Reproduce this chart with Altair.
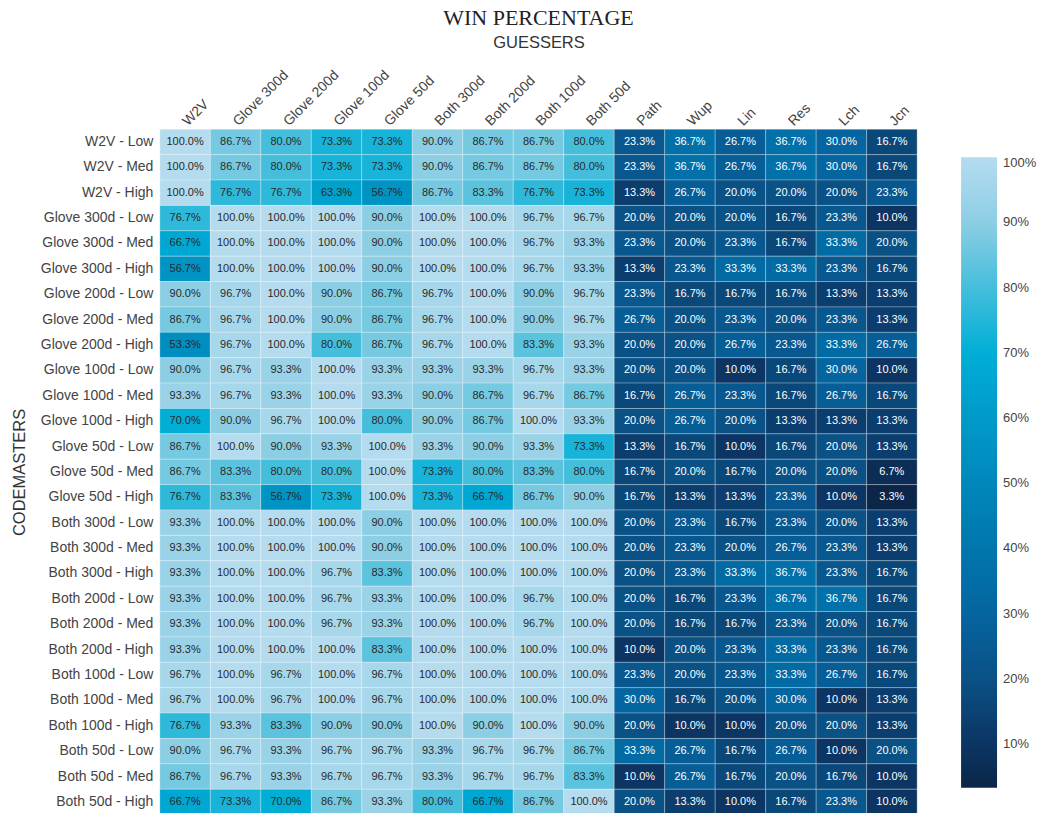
import altair as alt
import pandas as pd

guessers = ["W2V", "Glove 300d", "Glove 200d", "Glove 100d", "Glove 50d",
            "Both 300d", "Both 200d", "Both 100d", "Both 50d",
            "Path", "Wup", "Lin", "Res", "Lch", "Jcn"]

codemasters = ["W2V - Low", "W2V - Med", "W2V - High",
               "Glove 300d - Low", "Glove 300d - Med", "Glove 300d - High",
               "Glove 200d - Low", "Glove 200d - Med", "Glove 200d - High",
               "Glove 100d - Low", "Glove 100d - Med", "Glove 100d - High",
               "Glove 50d - Low", "Glove 50d - Med", "Glove 50d - High",
               "Both 300d - Low", "Both 300d - Med", "Both 300d - High",
               "Both 200d - Low", "Both 200d - Med", "Both 200d - High",
               "Both 100d - Low", "Both 100d - Med", "Both 100d - High",
               "Both 50d - Low", "Both 50d - Med", "Both 50d - High"]

w2v_low = [100.0, 86.7, 80.0, 73.3, 73.3, 90.0, 86.7, 86.7, 80.0, 23.3, 36.7, 26.7, 36.7, 30.0, 16.7]
w2v_med = [100.0, 86.7, 80.0, 73.3, 73.3, 90.0, 86.7, 86.7, 80.0, 23.3, 36.7, 26.7, 36.7, 30.0, 16.7]
w2v_high = [100.0, 76.7, 76.7, 63.3, 56.7, 86.7, 83.3, 76.7, 73.3, 13.3, 26.7, 20.0, 20.0, 20.0, 23.3]
g300_low = [76.7, 100.0, 100.0, 100.0, 90.0, 100.0, 100.0, 96.7, 96.7, 20.0, 20.0, 20.0, 16.7, 23.3, 10.0]
g300_med = [66.7, 100.0, 100.0, 100.0, 90.0, 100.0, 100.0, 96.7, 93.3, 23.3, 20.0, 23.3, 16.7, 33.3, 20.0]
g300_high = [56.7, 100.0, 100.0, 100.0, 90.0, 100.0, 100.0, 96.7, 93.3, 13.3, 23.3, 33.3, 33.3, 23.3, 16.7]
g200_low = [90.0, 96.7, 100.0, 90.0, 86.7, 96.7, 100.0, 90.0, 96.7, 23.3, 16.7, 16.7, 16.7, 13.3, 13.3]
g200_med = [86.7, 96.7, 100.0, 90.0, 86.7, 96.7, 100.0, 90.0, 96.7, 26.7, 20.0, 23.3, 20.0, 23.3, 13.3]
g200_high = [53.3, 96.7, 100.0, 80.0, 86.7, 96.7, 100.0, 83.3, 93.3, 20.0, 20.0, 26.7, 23.3, 33.3, 26.7]
g100_low = [90.0, 96.7, 93.3, 100.0, 93.3, 93.3, 93.3, 96.7, 93.3, 20.0, 20.0, 10.0, 16.7, 30.0, 10.0]
g100_med = [93.3, 96.7, 93.3, 100.0, 93.3, 90.0, 86.7, 96.7, 86.7, 16.7, 26.7, 23.3, 16.7, 26.7, 16.7]
g100_high = [70.0, 90.0, 96.7, 100.0, 80.0, 90.0, 86.7, 100.0, 93.3, 20.0, 26.7, 20.0, 13.3, 13.3, 13.3]
g50_low = [86.7, 100.0, 90.0, 93.3, 100.0, 93.3, 90.0, 93.3, 73.3, 13.3, 16.7, 10.0, 16.7, 20.0, 13.3]
g50_med = [86.7, 83.3, 80.0, 80.0, 100.0, 73.3, 80.0, 83.3, 80.0, 16.7, 20.0, 16.7, 20.0, 20.0, 6.7]
g50_high = [76.7, 83.3, 56.7, 73.3, 100.0, 73.3, 66.7, 86.7, 90.0, 16.7, 13.3, 13.3, 23.3, 10.0, 3.3]
b300_low = [93.3, 100.0, 100.0, 100.0, 90.0, 100.0, 100.0, 100.0, 100.0, 20.0, 23.3, 16.7, 23.3, 20.0, 13.3]
b300_med = [93.3, 100.0, 100.0, 100.0, 90.0, 100.0, 100.0, 100.0, 100.0, 20.0, 23.3, 20.0, 26.7, 23.3, 13.3]
b300_high = [93.3, 100.0, 100.0, 96.7, 83.3, 100.0, 100.0, 100.0, 100.0, 20.0, 23.3, 33.3, 36.7, 23.3, 16.7]
b200_low = [93.3, 100.0, 100.0, 96.7, 93.3, 100.0, 100.0, 96.7, 100.0, 20.0, 16.7, 23.3, 36.7, 36.7, 16.7]
b200_med = [93.3, 100.0, 100.0, 96.7, 93.3, 100.0, 100.0, 96.7, 100.0, 20.0, 16.7, 16.7, 23.3, 20.0, 16.7]
b200_high = [93.3, 100.0, 100.0, 100.0, 83.3, 100.0, 100.0, 100.0, 100.0, 10.0, 20.0, 23.3, 33.3, 23.3, 16.7]
b100_low = [96.7, 100.0, 96.7, 100.0, 96.7, 100.0, 100.0, 100.0, 100.0, 23.3, 20.0, 23.3, 33.3, 26.7, 16.7]
b100_med = [96.7, 100.0, 96.7, 100.0, 96.7, 100.0, 100.0, 100.0, 100.0, 30.0, 16.7, 20.0, 30.0, 10.0, 13.3]
b100_high = [76.7, 93.3, 83.3, 90.0, 90.0, 100.0, 90.0, 100.0, 90.0, 20.0, 10.0, 10.0, 20.0, 20.0, 13.3]
b50_low = [90.0, 96.7, 93.3, 96.7, 96.7, 93.3, 96.7, 96.7, 86.7, 33.3, 26.7, 16.7, 26.7, 10.0, 20.0]
b50_med = [86.7, 96.7, 93.3, 96.7, 96.7, 93.3, 96.7, 96.7, 83.3, 10.0, 26.7, 16.7, 20.0, 16.7, 10.0]
b50_high = [66.7, 73.3, 70.0, 86.7, 93.3, 80.0, 66.7, 86.7, 100.0, 20.0, 13.3, 10.0, 16.7, 23.3, 10.0]

rows = [w2v_low, w2v_med, w2v_high,
        g300_low, g300_med, g300_high,
        g200_low, g200_med, g200_high,
        g100_low, g100_med, g100_high,
        g50_low, g50_med, g50_high,
        b300_low, b300_med, b300_high,
        b200_low, b200_med, b200_high,
        b100_low, b100_med, b100_high,
        b50_low, b50_med, b50_high]

records = []
for cm, vals in zip(codemasters, rows):
    for g, v in zip(guessers, vals):
        records.append({"codemaster": cm, "guesser": g, "win": v,
                        "label": f"{v:.1f}%"})
df = pd.DataFrame(records)

color_domain = [3.3, 10, 20, 30, 40, 50, 60, 70, 80, 90, 100]
color_range = ["#0b2648", "#0c3563", "#0a5186", "#0565a0", "#0076ad",
               "#0087bb", "#009ac9", "#00aed6", "#45bedc", "#8ccee4", "#b5dbef"]

base = alt.Chart(df).encode(
    x=alt.X("guesser:N", sort=guessers,
            axis=alt.Axis(orient="top", title="GUESSERS", labelAngle=-45,
                          labelAlign="left", labelBaseline="middle",
                          labelPadding=6, ticks=False, domain=False,
                          labelFontSize=14, labelColor="#444",
                          labelFont="Liberation Sans",
                          titleFont="Liberation Sans", titleFontSize=16.5,
                          titleFontWeight="normal", titleColor="#333",
                          titleY=-87, titleBaseline="middle")),
    y=alt.Y("codemaster:N", sort=codemasters,
            axis=alt.Axis(title="CODEMASTERS", ticks=False, domain=False,
                          labelFontSize=14, labelColor="#444",
                          labelFont="Liberation Sans", labelPadding=7,
                          titleFont="Liberation Sans", titleFontSize=16.5,
                          titleFontWeight="normal", titleColor="#333",
                          titleX=-140, titleBaseline="middle")),
)

rect = base.mark_rect(stroke="white", strokeWidth=0.6, strokeOpacity=0.45).encode(
    color=alt.Color("win:Q",
                    scale=alt.Scale(domain=color_domain, range=color_range,
                                    interpolate="rgb"),
                    legend=alt.Legend(title=None, orient="none",
                                      legendX=802, legendY=28,
                                      direction="vertical",
                                      gradientLength=631,
                                      gradientThickness=36,
                                      gradientStrokeWidth=0,
                                      values=[10, 20, 30, 40, 50, 60, 70, 80, 90, 100],
                                      labelExpr="datum.value + '%'",
                                      labelFontSize=13, labelColor="#444",
                                      labelFont="Liberation Sans",
                                      labelOffset=6))
)

text = base.mark_text(fontSize=11, font="Liberation Sans").encode(
    text="label:N",
    color=alt.condition(alt.datum.win >= 45, alt.value("#2a2a2a"), alt.value("#ffffff")),
)

chart = (rect + text).properties(
    width=758, height=686,
    title=alt.TitleParams("WIN PERCENTAGE", font="Liberation Serif",
                          fontSize=22, fontWeight="normal", color="#222",
                          anchor="middle", offset=4),
    autosize=alt.AutoSizeParams(type="none"),
    padding={"left": 152, "top": 121, "right": 120, "bottom": 0},
).configure_view(stroke=None)

chart.save("out.html", embed_options={"renderer": "svg", "actions": False})
